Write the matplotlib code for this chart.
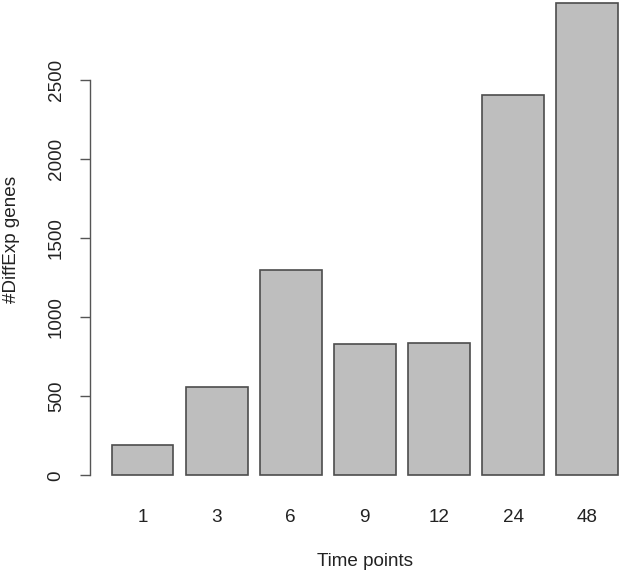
import matplotlib
matplotlib.use("Agg")
import matplotlib.pyplot as plt

# ============================
# data
time_points = ["1", "3", "6", "9", "12", "24", "48"]
n_genes = [192, 557, 1299, 829, 835, 2407, 2987]
y_ticks = [0, 500, 1000, 1500, 2000, 2500]

# ============================
# R barplot look-alike
plt.rcParams['font.family'] = ['Liberation Sans', 'DejaVu Sans']
W, H = 621, 575
FS = 13.6
fig = plt.figure(figsize=(W / 100, H / 100), dpi=100)

ax_left, ax_bottom_px = 90, 494.2
ax = fig.add_axes([ax_left / W, (H - ax_bottom_px) / H,
                   (W - ax_left) / W, ax_bottom_px / H])

# bar centres like barplot(space=0.2, width=1)
centers = [0.7 + 1.2 * i for i in range(len(n_genes))]
ax.bar(centers, n_genes, width=1.0, color='#bebebe',
       edgecolor='#4d4d4d', linewidth=1.2)

ax.set_xlim(-0.151, 8.449)
ax.set_ylim(-119.5, 3008)

for s in ['top', 'right', 'bottom']:
    ax.spines[s].set_visible(False)
ax.spines['left'].set_bounds(0, 2500)
ax.spines['left'].set_color('#555555')
ax.spines['left'].set_linewidth(1.0)

ax.set_yticks(y_ticks)
ax.set_yticklabels([str(v) for v in y_ticks], rotation=90, va='center')
ax.tick_params(axis='y', length=7.2, width=1.0, color='#555555',
               pad=11.0, labelsize=FS, labelcolor='#222222')

ax.set_xticks(centers)
ax.set_xticklabels(time_points)
ax.tick_params(axis='x', length=0, pad=11.0, labelsize=FS,
               labelcolor='#222222')

fig.text(12 / W, 1 - 239 / H, "#DiffExp genes", rotation=90,
         ha='center', va='center', fontsize=FS, color='#222222')
fig.text(365 / W, 1 - 562 / H, "Time points",
         ha='center', va='center', fontsize=FS, color='#222222')

fig.savefig("out.png", dpi=100)
